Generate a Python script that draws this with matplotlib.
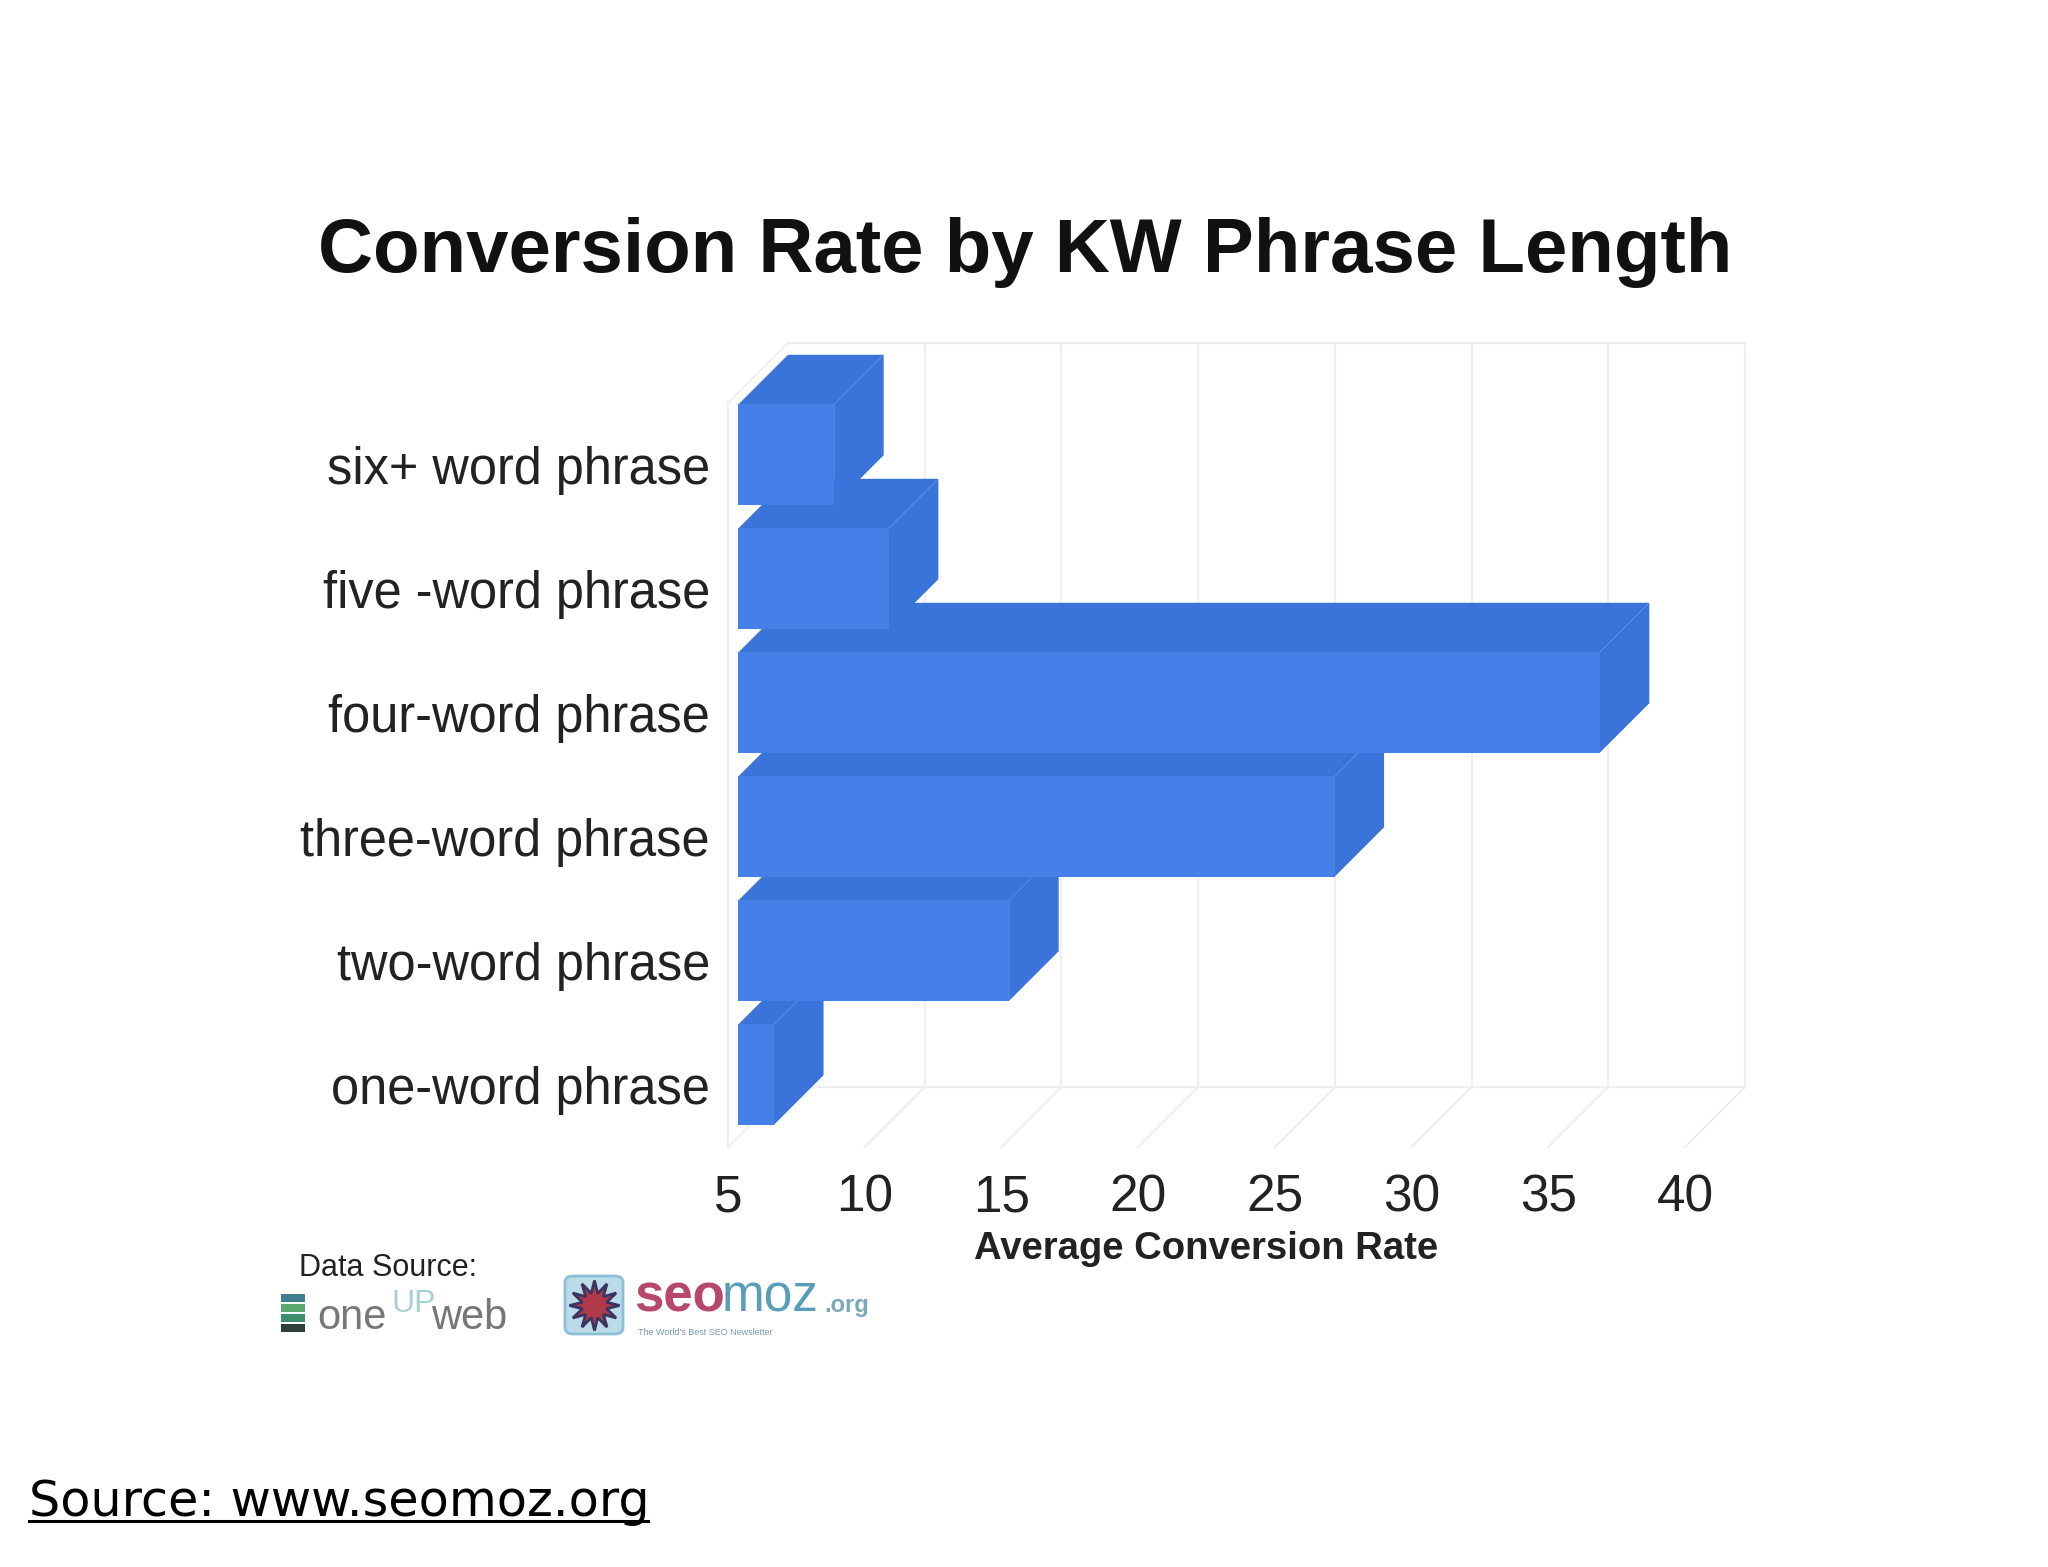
#!/usr/bin/env python
# -*- coding: utf-8 -*-
import matplotlib
matplotlib.use("Agg")
import matplotlib.pyplot as plt
from matplotlib.patches import FancyBboxPatch, Rectangle
from matplotlib.lines import Line2D

categories = ['one-word phrase', 'two-word phrase', 'three-word phrase',
              'four-word phrase', 'five -word phrase', 'six+ word phrase']
values = [6.3, 14.9, 26.8, 36.5, 10.5, 8.5]
x_ticks = [5, 10, 15, 20, 25, 30, 35, 40]

W, H = 2048, 1567
plt.rcParams['font.family'] = ['Liberation Sans', 'DejaVu Sans']

fig = plt.figure(figsize=(W / 100, H / 100), dpi=100, facecolor='white')
# front plane of the fake 3d box
ax = fig.add_axes([728 / W, 1 - 1147 / H, (1685 - 728) / W, (1147 - 403) / H])
ax.set_xlim(5, 40)
ax.set_ylim(-0.5, 5.5)
ax.patch.set_visible(False)
for s in ax.spines.values():
    s.set_visible(False)

# depth of the box in data units
depth_x = 60 / ((1685 - 728) / 35)
depth_y = 60 / ((1147 - 403) / 6)
bar_off = 0.174  # bars start a bit behind the front plane
bar_h = 0.81
wall = '#eeeef3'

top_y = 5.5 + depth_y
back_y = -0.5 + depth_y
# walls and grid
for t in x_ticks[1:]:
    ax.plot([t + depth_x, t + depth_x], [back_y, top_y], color=wall, lw=1.6, clip_on=False, zorder=1)
for t in x_ticks:
    ax.plot([t, t + depth_x], [-0.5, back_y], color=wall, lw=1.6, clip_on=False, zorder=1)
ax.plot([5 + depth_x, 40 + depth_x], [back_y, back_y], color=wall, lw=1.6, clip_on=False, zorder=1)
ax.plot([5 + depth_x, 40 + depth_x], [top_y, top_y], color=wall, lw=1.6, clip_on=False, zorder=1)
ax.plot([5, 5], [-0.5, 5.5], color=wall, lw=1.6, clip_on=False, zorder=1)
ax.plot([5, 5 + depth_x], [5.5, top_y], color=wall, lw=1.6, clip_on=False, zorder=1)

# bars, bottom one first so upper fronts sit over lower tops
sx = depth_x * bar_off
sy = depth_y * bar_off
for i, v in enumerate(values):
    x0 = 5 + sx
    x1 = v + sx
    y0 = i - bar_h / 2 + sy
    y1 = i + bar_h / 2 + sy
    dx = depth_x * (1 - bar_off)
    dy = depth_y * (1 - bar_off)
    ax.fill([x0, x0 + dx, x1 + dx, x1], [y1, y1 + dy, y1 + dy, y1],
            color='#3a74d9', lw=0, clip_on=False, zorder=2 + i)
    ax.fill([x1, x1 + dx, x1 + dx, x1], [y0, y0 + dy, y1 + dy, y1],
            color='#3a73da', lw=0, clip_on=False, zorder=2 + i)
    ax.barh(i + sy, v - 5, height=bar_h, left=x0, color='#4480e8', lw=0, clip_on=False, zorder=2 + i)

ax.set_xticks(x_ticks)
ax.set_yticks(range(len(categories)))
ax.set_yticklabels(categories)
ax.tick_params(axis='y', length=0, pad=13, labelsize=36.4, labelcolor='#222222')
ax.tick_params(axis='x', length=0, pad=19, labelsize=37, labelcolor='#222222')
ax.set_xlabel('Average Conversion Rate', fontsize=27.5, fontweight='bold', color='#222222', labelpad=6)

fig.text(1025 / W, 1 - 252 / H, 'Conversion Rate by KW Phrase Length', ha='center', va='center',
         fontsize=54.9, fontweight='bold', color='#111111')
fig.text(388 / W, 1 - 1268 / H, 'Data Source:', ha='center', va='center', fontsize=22, color='#222222')

# oneupweb logo
for k, c in enumerate(['#2f3f3a', '#3c8f6a', '#5aa870', '#3f7f8f']):
    fig.add_artist(Rectangle((281 / W, 1 - (1332 - k * 10) / H), 24 / W, 8 / H,
                             transform=fig.transFigure, fc=c, ec='none'))
fig.text(317 / W, 1 - 1318 / H, 'one', va='center', fontsize=30, color='#777777')
fig.text(391 / W, 1 - 1304 / H, 'UP', va='center', fontsize=23, color='#a5d0d4')
fig.text(431 / W, 1 - 1318 / H, 'web', va='center', fontsize=30, color='#777777')

# seomoz logo
fig.add_artist(FancyBboxPatch((565 / W, 1 - 1334 / H), 58 / W, 58 / H, boxstyle='round,pad=0,rounding_size=0.004',
                              transform=fig.transFigure, fc='#bcdbe8', ec='#8dbfd6', lw=2))
fig.add_artist(Line2D([594 / W], [1 - 1305 / H], marker=(12, 1, 0), ms=36, color='#b03a4a',
                      mec='#3a3560', mew=2, transform=fig.transFigure))
fig.text(634 / W, 1 - 1312 / H, 'seo', va='baseline', fontsize=38, fontweight='bold', color='#b8476e')
fig.text(722 / W, 1 - 1312 / H, 'moz', va='baseline', fontsize=37, color='#5a9db8')
fig.text(824 / W, 1 - 1312 / H, '.org', va='baseline', fontsize=17, fontweight='bold', color='#7aa8b8')
fig.text(638 / W, 1 - 1335 / H, "The World's Best SEO Newsletter", va='baseline', fontsize=6.5, color='#7a9ab0')

# source line under the picture
fig.text(29 / W, 1 - 1502 / H, 'Source: www.seomoz.org', va='center', fontsize=35.5,
         family=['DejaVu Sans'], color='#000000')
fig.add_artist(Line2D([29 / W, 648 / W], [1 - 1521 / H, 1 - 1521 / H], color='black', lw=2.2,
                      transform=fig.transFigure))

fig.savefig('out.png', dpi=100)
